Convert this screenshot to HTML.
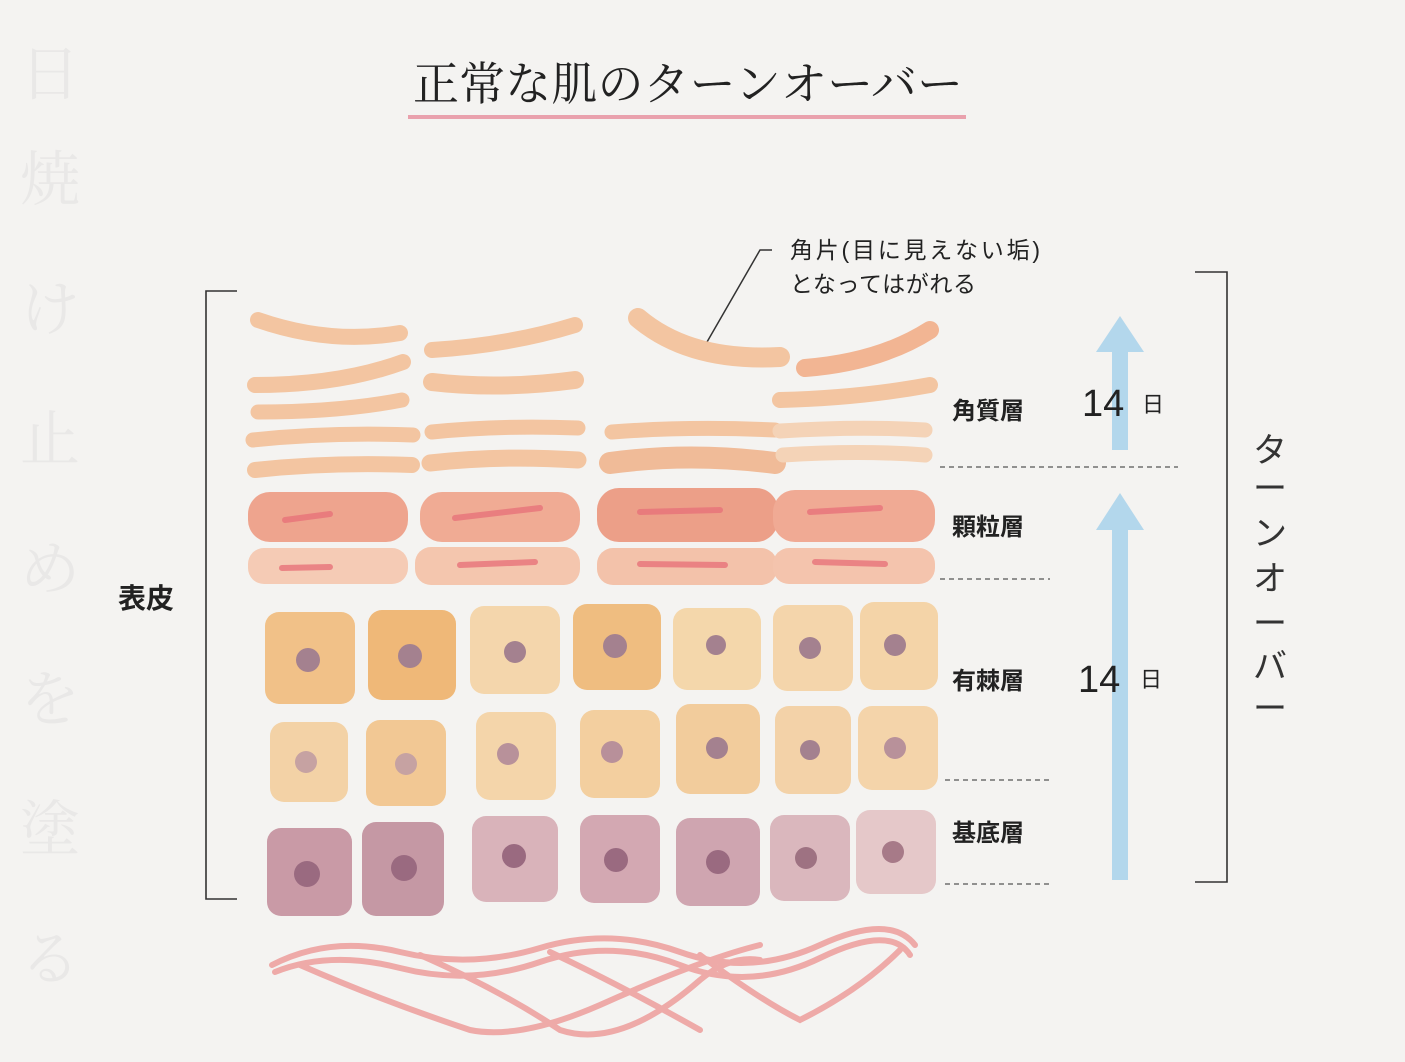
<!DOCTYPE html>
<html><head><meta charset="utf-8"><style>
html,body{margin:0;padding:0;background:#f4f3f1;}
svg{display:block}
text{font-family:"Liberation Sans","Noto Sans CJK JP",sans-serif;}
</style></head><body>
<svg width="1405" height="1062" viewBox="0 0 1405 1062" xmlns="http://www.w3.org/2000/svg">
<rect width="1405" height="1062" fill="#f4f3f1"/>
<!-- faint bleed-through -->
<g fill="#e9e8e7" font-size="60">
<text x="20" y="95" style="font-family:'Noto Serif CJK SC',serif">日</text>
<text x="20" y="200" style="font-family:'Noto Serif CJK SC',serif">焼</text>
<text x="20" y="330" style="font-family:'Noto Serif CJK SC',serif">け</text>
<text x="20" y="460" style="font-family:'Noto Serif CJK SC',serif">止</text>
<text x="20" y="590" style="font-family:'Noto Serif CJK SC',serif">め</text>
<text x="20" y="720" style="font-family:'Noto Serif CJK SC',serif">を</text>
<text x="20" y="850" style="font-family:'Noto Serif CJK SC',serif">塗</text>
<text x="20" y="980" style="font-family:'Noto Serif CJK SC',serif">る</text>
</g>
<!-- title -->
<text x="413" y="100" font-size="46" fill="#222" style="font-family:'Noto Serif CJK JP','Noto Serif CJK SC',serif" textLength="550">正常な肌のターンオーバー</text>
<rect x="408" y="115" width="558" height="4" fill="#e9a1ad"/>
<!-- left bracket -->
<path d="M237 291 H206 V899 H237" fill="none" stroke="#333" stroke-width="1.6"/>
<text x="118" y="608" font-size="28" font-weight="bold" fill="#222">表皮</text>
<!-- right bracket -->
<path d="M1195 272 H1227 V882 H1195" fill="none" stroke="#333" stroke-width="1.6"/>
<g font-size="34" fill="#333" text-anchor="middle">
<text x="1270" y="462">タ</text>
<text x="1270" y="500">ー</text>
<text x="1270" y="545">ン</text>
<text x="1270" y="590">オ</text>
<text x="1270" y="635">ー</text>
<text x="1270" y="678">バ</text>
<text x="1270" y="720">ー</text>
</g>
<!-- annotation -->
<text x="790" y="258" font-size="23" fill="#222" textLength="250">角片(目に見えない垢)</text>
<text x="790" y="292" font-size="23" fill="#222" textLength="186">となってはがれる</text>
<path d="M772 250 L760 250 L707 342" fill="none" stroke="#333" stroke-width="1.5"/>
<!-- arrows -->
<g fill="#b3d7ec">
<rect x="1112" y="350" width="16" height="100"/>
<polygon points="1096,352 1120,316 1144,352"/>
<rect x="1112" y="528" width="16" height="352"/>
<polygon points="1096,530 1120,493 1144,530"/>
</g>
<!-- layer labels -->
<g font-size="24" font-weight="bold" fill="#222">
<text x="952" y="419">角質層</text>
<text x="952" y="535">顆粒層</text>
<text x="952" y="689">有棘層</text>
<text x="952" y="841">基底層</text>
</g>
<g fill="#222">
<text x="1082" y="416" font-size="38">14</text><text x="1142" y="412" font-size="22">日</text>
<text x="1078" y="692" font-size="38">14</text><text x="1140" y="687" font-size="22">日</text>
</g>
<g stroke="#555" stroke-width="1.2" stroke-dasharray="5,4">
<line x1="940" y1="467" x2="1178" y2="467"/>
<line x1="940" y1="579" x2="1050" y2="579"/>
<line x1="945" y1="780" x2="1050" y2="780"/>
<line x1="945" y1="884" x2="1052" y2="884"/>
</g>
<!-- corneum flakes -->
<g fill="none" stroke-linecap="round" stroke="#f3c39d" opacity="0.95">
<path d="M258 320 Q330 345 400 333" stroke-width="16"/>
<path d="M255 385 Q340 385 403 362" stroke-width="16"/>
<path d="M258 412 Q340 412 402 400" stroke-width="15"/>
<path d="M253 440 Q330 432 413 435" stroke-width="15"/>
<path d="M255 470 Q330 462 412 465" stroke-width="16"/>
<path d="M432 350 Q510 345 575 325" stroke-width="16"/>
<path d="M432 382 Q500 390 575 380" stroke-width="18"/>
<path d="M432 432 Q500 425 578 428" stroke-width="15"/>
<path d="M430 463 Q500 455 578 460" stroke-width="17"/>
<path d="M638 318 Q690 362 780 357" stroke-width="20"/>
<path d="M612 432 Q690 426 775 430" stroke-width="15"/>
<path d="M610 463 Q690 452 775 463" stroke-width="22" stroke="#f0b994"/>
<path d="M805 368 Q880 362 930 330" stroke-width="18" stroke="#f2b28f"/>
<path d="M780 400 Q860 398 930 385" stroke-width="16"/>
<path d="M780 431 Q860 426 925 430" stroke-width="15" stroke="#f4d2b4"/>
<path d="M783 455 Q860 450 925 455" stroke-width="15" stroke="#f4d2b4"/>
</g>
<!-- granular -->
<g>
<rect x="248" y="492" width="160" height="50" rx="22" fill="#eea48e"/>
<rect x="420" y="492" width="160" height="50" rx="22" fill="#f0ab94"/>
<rect x="597" y="488" width="181" height="54" rx="22" fill="#ec9f88"/>
<rect x="773" y="490" width="162" height="52" rx="22" fill="#f0aa94"/>
<rect x="248" y="548" width="160" height="36" rx="16" fill="#f5cbb5"/>
<rect x="415" y="547" width="165" height="38" rx="16" fill="#f4c6ae"/>
<rect x="597" y="548" width="180" height="37" rx="16" fill="#f3c2aa"/>
<rect x="773" y="548" width="162" height="36" rx="16" fill="#f4c4ad"/>
<g stroke="#e8737a" stroke-linecap="round" stroke-width="6" fill="none" opacity="0.8">
<path d="M285 520 L330 514"/><path d="M455 518 L540 508"/><path d="M640 512 L720 510"/><path d="M810 512 L880 508"/>
<path d="M282 568 L330 567"/><path d="M460 565 L535 562"/><path d="M640 564 L725 565"/><path d="M815 562 L885 564"/>
</g>
</g>
<!-- spinous & basal cells -->
<g>
<rect x="265" y="612" width="90" height="92" rx="14" fill="#f1c188"/>
<rect x="368" y="610" width="88" height="90" rx="14" fill="#efb878"/>
<rect x="470" y="606" width="90" height="88" rx="14" fill="#f4d6ac"/>
<rect x="573" y="604" width="88" height="86" rx="14" fill="#efbd80"/>
<rect x="673" y="608" width="88" height="82" rx="14" fill="#f4d7ab"/>
<rect x="773" y="605" width="80" height="86" rx="14" fill="#f4d5ab"/>
<rect x="860" y="602" width="78" height="88" rx="14" fill="#f4d4a8"/>
<rect x="270" y="722" width="78" height="80" rx="14" fill="#f3d2a6"/>
<rect x="366" y="720" width="80" height="86" rx="14" fill="#f2c894"/>
<rect x="476" y="712" width="80" height="88" rx="14" fill="#f4d5aa"/>
<rect x="580" y="710" width="80" height="88" rx="14" fill="#f3cf9f"/>
<rect x="676" y="704" width="84" height="90" rx="14" fill="#f2cc9c"/>
<rect x="775" y="706" width="76" height="88" rx="14" fill="#f3d2a8"/>
<rect x="858" y="706" width="80" height="84" rx="14" fill="#f4d4aa"/>
<rect x="267" y="828" width="85" height="88" rx="14" fill="#c99aa6"/>
<rect x="362" y="822" width="82" height="94" rx="14" fill="#c598a4"/>
<rect x="472" y="816" width="86" height="86" rx="14" fill="#d9b3ba"/>
<rect x="580" y="815" width="80" height="88" rx="14" fill="#d3a8b2"/>
<rect x="676" y="818" width="84" height="88" rx="14" fill="#cfa5b0"/>
<rect x="770" y="815" width="80" height="86" rx="14" fill="#dab7bd"/>
<rect x="856" y="810" width="80" height="84" rx="14" fill="#e5c8c9"/>
<g fill="#a4818f">
<circle cx="308" cy="660" r="12"/><circle cx="410" cy="656" r="12"/><circle cx="515" cy="652" r="11"/><circle cx="615" cy="646" r="12"/><circle cx="716" cy="645" r="10"/><circle cx="810" cy="648" r="11"/><circle cx="895" cy="645" r="11"/>
<circle cx="306" cy="762" r="11" fill="#c6a2a2"/><circle cx="406" cy="764" r="11" fill="#c6a2a2"/><circle cx="508" cy="754" r="11" fill="#b8919a"/><circle cx="612" cy="752" r="11" fill="#b8909a"/><circle cx="717" cy="748" r="11"/><circle cx="810" cy="750" r="10"/><circle cx="895" cy="748" r="11" fill="#b8919a"/>
<circle cx="307" cy="874" r="13" fill="#9a6a80"/><circle cx="404" cy="868" r="13" fill="#9a6a80"/><circle cx="514" cy="856" r="12" fill="#9a6a80"/><circle cx="616" cy="860" r="12" fill="#9a6a80"/><circle cx="718" cy="862" r="12" fill="#9a6a80"/><circle cx="806" cy="858" r="11" fill="#9e7282"/><circle cx="893" cy="852" r="11" fill="#a77a88"/>
</g>
</g>
<!-- blood vessels -->
<g fill="none" stroke="#eeaaa8" stroke-width="6" stroke-linecap="round">
<path d="M272 965 Q330 935 400 952 T540 948 T680 952 T820 945 T915 945"/>
<path d="M275 972 Q330 950 400 968 T540 962 T680 965 T820 958 T910 955"/>
<path d="M300 965 Q380 1000 470 1030 Q520 1040 600 1005 Q700 960 760 945"/>
<path d="M420 955 Q500 990 560 1030 Q620 1050 700 980 Q730 955 760 960"/>
<path d="M550 952 Q620 985 700 1030"/>
<path d="M700 955 Q760 1000 800 1020 Q860 990 900 950"/>
</g>
</svg>
</body></html>
